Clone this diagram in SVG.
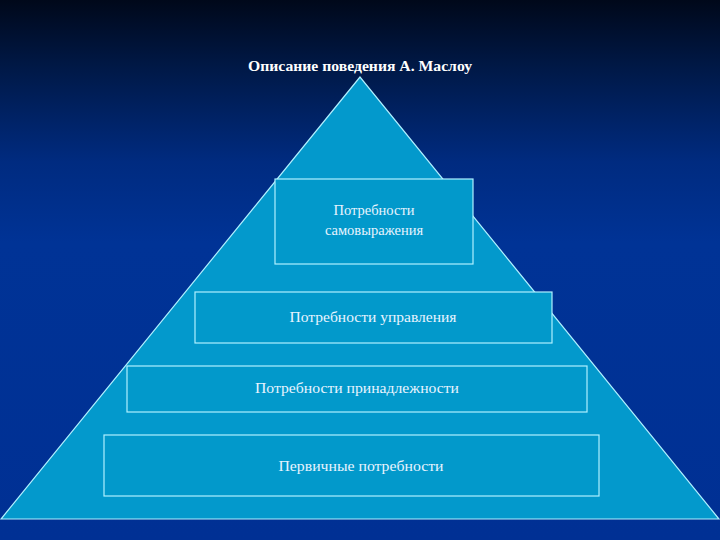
<svg xmlns="http://www.w3.org/2000/svg" width="720" height="540" viewBox="0 0 720 540">
  <defs>
    <linearGradient id="bg" x1="0" y1="0" x2="0" y2="1">
      <stop offset="0" stop-color="#00081a"/>
      <stop offset="0.12" stop-color="#001845"/>
      <stop offset="0.3" stop-color="#002b80"/>
      <stop offset="0.45" stop-color="#003396"/>
      <stop offset="1" stop-color="#003094"/>
    </linearGradient>
    <style>
      .box { fill: #0299cb; stroke: #b0f0ff; stroke-width: 1.2; }
      .lbl { font-family: "Liberation Serif", "DejaVu Serif", serif; font-size: 14.5px; fill: #e8f4ff; text-anchor: middle; }
      .title { font-family: "Liberation Serif", "DejaVu Serif", serif; font-size: 14px; font-weight: bold; fill: #ffffff; text-anchor: middle; }
    </style>
  </defs>
  <rect x="0" y="0" width="720" height="540" fill="url(#bg)"/>
  <g id="title">
    <text class="title" x="360" y="71" textLength="224" lengthAdjust="spacingAndGlyphs">Описание поведения А. Маслоу</text>
  </g>
  <g id="pyramid">
    <polygon points="360,77 1,519 719,519" fill="#0399cc" stroke="#b0f0ff" stroke-width="1.2"/>
  </g>
  <g id="connectors"></g>
  <g id="level1">
    <rect class="box" x="275" y="179" width="198" height="85"/>
    <text class="lbl" x="374" y="215">Потребности</text>
    <text class="lbl" x="374" y="235">самовыражения</text>
  </g>
  <g id="level2">
    <rect class="box" x="195" y="292" width="357" height="51"/>
    <text class="lbl" x="373" y="322" textLength="167" lengthAdjust="spacingAndGlyphs">Потребности управления</text>
  </g>
  <g id="level3">
    <rect class="box" x="127" y="366" width="460" height="46"/>
    <text class="lbl" x="357" y="393" textLength="204" lengthAdjust="spacingAndGlyphs">Потребности принадлежности</text>
  </g>
  <g id="level4">
    <rect class="box" x="104" y="435" width="495" height="61"/>
    <text class="lbl" x="361" y="471" textLength="165" lengthAdjust="spacingAndGlyphs">Первичные потребности</text>
  </g>
</svg>
